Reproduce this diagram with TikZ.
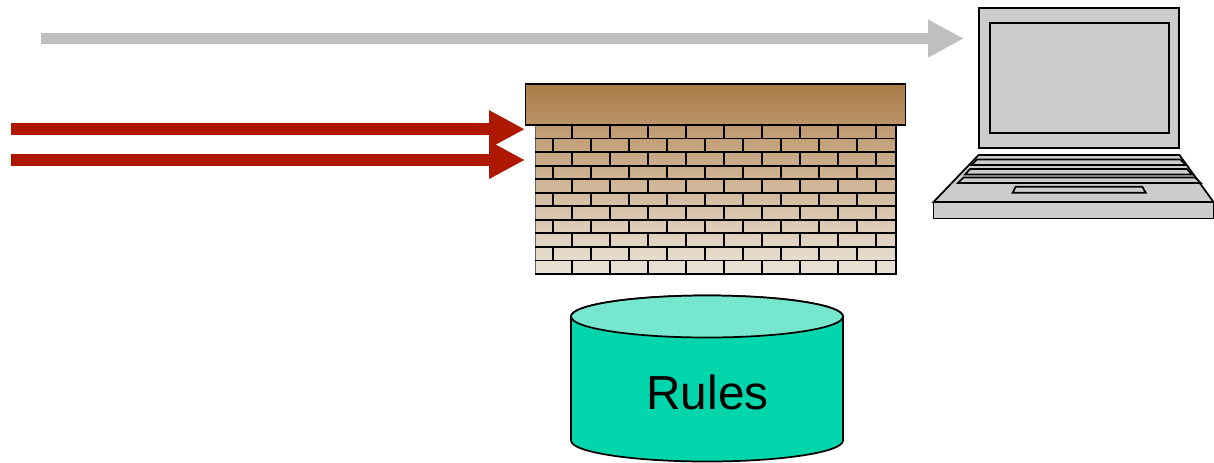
\documentclass[tikz,border=0pt]{standalone}
\usepackage{fontspec}
\setmainfont{Liberation Sans}
\usetikzlibrary{arrows.meta}
\definecolor{grayarrow}{HTML}{BFBFBF}
\definecolor{redarrow}{HTML}{AE1700}
\definecolor{laptopgray}{HTML}{CCCCCC}
\definecolor{cylbody}{HTML}{00D5AC}
\definecolor{cyltop}{HTML}{77E6CF}
\definecolor{brickA}{HTML}{A97D47}
\definecolor{brickB}{HTML}{BB9468}
\definecolor{brickC}{HTML}{BE996F}
\definecolor{brickD}{HTML}{EBE3D8}
\tikzset{
  flowarrow/.style={line width=8.8pt,-{Triangle[length=27pt,width=26.5pt]}},
  outline/.style={draw=black,line width=1.3pt,line join=miter},
  laptoppart/.style={outline,fill=laptopgray},
  cappart/.style={outline,rectangle,inner sep=0pt,top color=brickA,bottom color=brickB},
  brickline/.style={draw=black,line width=1.4pt},
  anchornode/.style={rectangle,inner sep=0pt,outer sep=0pt}
}
\begin{document}
\begin{tikzpicture}[x=0.75pt,y=-0.75pt]
\useasboundingbox (0,0) rectangle (1214,462);
% firewall
\node[anchornode,minimum width=270.75pt,minimum height=112pt,
      top color=brickC,bottom color=brickD,draw=black!60,line width=0.6pt] (bricks) at (715.5,199.5) {};
\foreach \r in {0,...,11}{
  \draw[brickline] (535,{125+13.55*\r}) -- (896,{125+13.55*\r});
}
\foreach \r in {0,2,4,6,8,10}{
  \foreach \k in {0,...,8}{
    \draw[brickline] ({572.3+38*\k},{125+13.55*\r}) -- ({572.3+38*\k},{125+13.55*(\r+1)});
  }
}
\foreach \r in {1,3,5,7,9}{
  \foreach \k in {0,...,8}{
    \draw[brickline] ({553.3+38*\k},{125+13.55*\r}) -- ({553.3+38*\k},{125+13.55*(\r+1)});
  }
}
\draw[brickline] (896,125) -- (896,274.5);
\node[cappart,minimum width=285pt,minimum height=30.5pt] (cap) at (715.5,104.5) {};
% laptop
\path[laptoppart] (978.5,155) -- (1179.5,155) -- (1213.5,202) -- (933.5,202) -- cycle;
\path[laptoppart] (933.5,202) rectangle (1213.5,218.5);
\node[anchornode,laptoppart,minimum width=150.5pt,minimum height=105pt] (screen) at (1079,78) {};
\node[anchornode,laptoppart,minimum width=134.5pt,minimum height=82pt] (display) at (1079.5,78) {};
\path[laptoppart] (976.7,159.5) -- (1180.5,159.5) -- (1185.7,165) -- (971.7,165) -- cycle;
\path[laptoppart] (970,169) -- (1187,169) -- (1192,174.5) -- (965,174.5) -- cycle;
\path[laptoppart] (963.5,177.5) -- (1195,177.5) -- (1200.7,183) -- (958,183) -- cycle;
\path[laptoppart] (1015.7,186.7) -- (1142.3,186.7) -- (1145.7,192.7) -- (1012.7,192.7) -- cycle;
% cylinder
\path[outline,fill=cylbody] (571,316.5) -- (571,440.5) arc[start angle=180,end angle=0,x radius=136,y radius=21]
  -- (843,316.5) arc[start angle=0,end angle=-180,x radius=136,y radius=21] -- cycle;
\path[outline,fill=cyltop] (707,316.5) ellipse[x radius=136,y radius=21];
\node[anchornode,anchor=base,font=\fontsize{35.8pt}{40pt}\selectfont] (rules) at (707.5,409.5) {Rules};
% arrows
\coordinate (grayStart) at (41,38.5);
\coordinate (grayEnd) at (964,38.5);
\coordinate (redStartA) at (11,129.2);
\coordinate (redEndA) at (525,129.2);
\coordinate (redStartB) at (11,160);
\coordinate (redEndB) at (525,160);
\draw[flowarrow,color=grayarrow] (grayStart) -- (grayEnd);
\draw[flowarrow,color=redarrow] (redStartA) -- (redEndA);
\draw[flowarrow,color=redarrow] (redStartB) -- (redEndB);
\end{tikzpicture}
\end{document}
